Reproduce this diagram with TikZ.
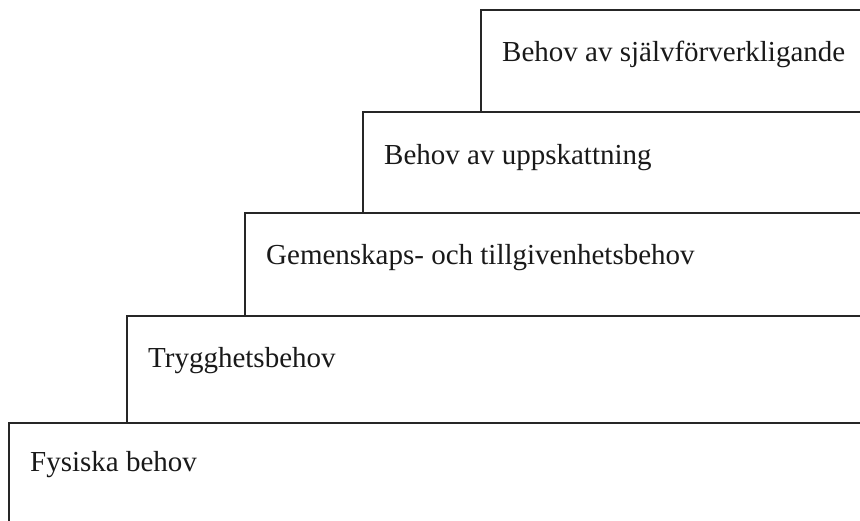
\documentclass[tikz,border=0pt]{standalone}
\usepackage{fontspec}
\setmainfont{Liberation Serif}
\begin{document}
\begin{tikzpicture}[x=1pt,y=1pt,
  step box/.style={draw=black!85, line width=1.6pt},
  level text/.style={anchor=base west, inner sep=0pt, font=\fontsize{29}{33}\selectfont, text=black!90}]
\useasboundingbox (0,0) rectangle (860,521);
\clip (0,0) rectangle (860,521);
% steps, from the top step down; each left side stops on the step below
\draw[step box] (481,409) -- (481,511) -- (880,511);
\draw[step box] (363,308) -- (363,409) -- (880,409);
\draw[step box] (245,205) -- (245,308) -- (880,308);
\draw[step box] (127,98)  -- (127,205) -- (880,205);
\draw[step box] (9,-10)   -- (9,98)    -- (880,98);
% labels
\node[level text] (l5) at (502,459) {Behov av självförverkligande};
\node[level text] (l4) at (384,356) {Behov av uppskattning};
\node[level text] (l3) at (266,256) {Gemenskaps- och tillgivenhetsbehov};
\node[level text] (l2) at (148,153) {Trygghetsbehov};
\node[level text] (l1) at (30,49)   {Fysiska behov};
\end{tikzpicture}
\end{document}
